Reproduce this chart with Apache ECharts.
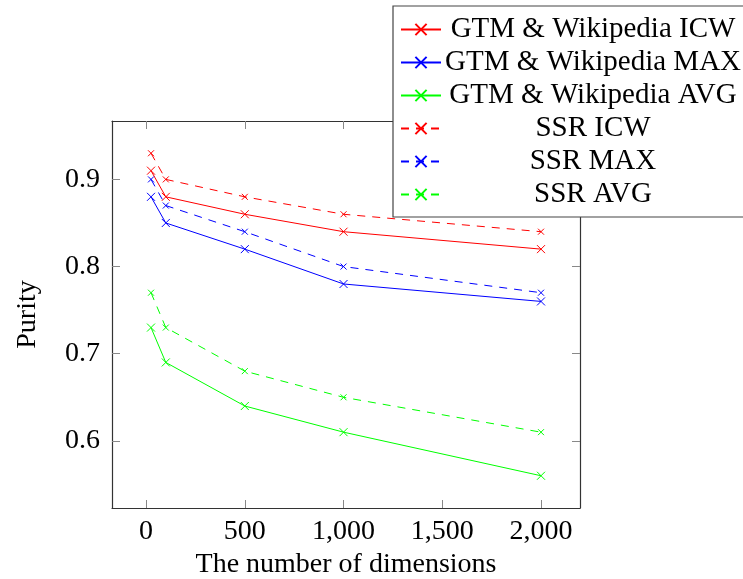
<!DOCTYPE html>
<html>
<head>
<meta charset="utf-8">
<script src="https://cdn.jsdelivr.net/npm/echarts@6/dist/echarts.min.js"></script>
<style>
  html, body { margin: 0; padding: 0; background: #fff; }
  #chart { width: 743px; height: 579px; }
</style>
</head>
<body>
<div id="chart"></div>
<script>
// Purity versus number of dimensions
const dimensions = [25, 100, 500, 1000, 2000];
const gtmIcw = [0.91, 0.88, 0.86, 0.84, 0.82];
const gtmMax = [0.88, 0.85, 0.82, 0.78, 0.76];
const gtmAvg = [0.73, 0.69, 0.64, 0.61, 0.56];
const ssrIcw = [0.93, 0.90, 0.88, 0.86, 0.84];
const ssrMax = [0.90, 0.87, 0.84, 0.80, 0.77];
const ssrAvg = [0.77, 0.73, 0.68, 0.65, 0.61];
const xTicks = [0, 500, 1000, 1500, 2000];
const yTicks = [0.6, 0.7, 0.8, 0.9];

const FONT = '"Liberation Serif", "DejaVu Serif", serif';
const CROSS = 'path://M0,0L10,10M10,0L0,10';

function pairs(ys) { return dimensions.map((x, i) => [x, ys[i]]); }

function makeSeries(name, ys, color, dashed) {
  return {
    name: name,
    type: 'line',
    data: pairs(ys),
    symbol: CROSS,
    symbolSize: dashed ? 6 : 8,
    showAllSymbol: true,
    lineStyle: { color: color, width: 1, type: dashed ? [8, 7] : 'solid' },
    itemStyle: { color: color, borderColor: color, borderWidth: 1 },
    emphasis: { disabled: true },
    animation: false,
    z: 3
  };
}

const tickStyle = { show: true, inside: true, length: 8, lineStyle: { color: '#888', width: 1 } };
const lineStyle = { show: true, onZero: false, lineStyle: { color: '#333', width: 1.2 } };

const chart = echarts.init(document.getElementById('chart'), null, { renderer: 'canvas' });
chart.setOption({
  backgroundColor: '#fff',
  animation: false,
  grid: { left: 112, right: 163, top: 121, bottom: 71, containLabel: false, outerBoundsMode: 'none' },
  legend: {
    left: 393,
    top: 6,
    orient: 'vertical',
    itemWidth: 40,
    itemHeight: 14,
    itemGap: 4,
    padding: [9, 8, 8, 7],
    backgroundColor: '#fff',
    borderColor: '#444',
    borderWidth: 1.2,
    borderRadius: 0,
    z: 10,
    formatter: n => '{c|' + n + '}',
    textStyle: {
      rich: {
        c: { width: 294, align: 'center', fontSize: 29, lineHeight: 28, fontFamily: FONT, color: '#000' }
      }
    },
    data: ['GTM & Wikipedia ICW', 'GTM & Wikipedia MAX', 'GTM & Wikipedia AVG', 'SSR ICW', 'SSR MAX', 'SSR AVG']
  },
  xAxis: [
    {
      type: 'value', position: 'bottom', min: -172.5, max: 2197.5,
      name: 'The number of dimensions', nameLocation: 'middle', nameGap: 37,
      nameTextStyle: { fontSize: 28, fontFamily: FONT, color: '#000' },
      axisLine: lineStyle,
      axisTick: Object.assign({ customValues: xTicks }, tickStyle),
      axisLabel: {
        customValues: xTicks, margin: 10, fontSize: 28, fontFamily: FONT, color: '#000',
        formatter: v => Number(v).toLocaleString('en-US')
      },
      splitLine: { show: false }
    },
    {
      type: 'value', position: 'top', min: -172.5, max: 2197.5,
      axisLine: lineStyle,
      axisTick: Object.assign({ customValues: xTicks }, tickStyle),
      axisLabel: { show: false },
      splitLine: { show: false }
    }
  ],
  yAxis: [
    {
      type: 'value', position: 'left', min: 0.523, max: 0.967,
      name: 'Purity', nameLocation: 'middle', nameGap: 70, nameRotate: 90,
      nameTextStyle: { fontSize: 28, fontFamily: FONT, color: '#000' },
      axisLine: lineStyle,
      axisTick: Object.assign({ customValues: yTicks }, tickStyle),
      axisLabel: {
        customValues: yTicks, margin: 12, fontSize: 28, fontFamily: FONT, color: '#000',
        formatter: v => Number(v).toFixed(1)
      },
      splitLine: { show: false }
    },
    {
      type: 'value', position: 'right', min: 0.523, max: 0.967,
      axisLine: lineStyle,
      axisTick: Object.assign({ customValues: yTicks }, tickStyle),
      axisLabel: { show: false },
      splitLine: { show: false }
    }
  ],
  series: [
    makeSeries('GTM & Wikipedia ICW', gtmIcw, '#ff0000', false),
    makeSeries('GTM & Wikipedia MAX', gtmMax, '#0000ff', false),
    makeSeries('GTM & Wikipedia AVG', gtmAvg, '#00ff00', false),
    makeSeries('SSR ICW', ssrIcw, '#ff0000', true),
    makeSeries('SSR MAX', ssrMax, '#0000ff', true),
    makeSeries('SSR AVG', ssrAvg, '#00ff00', true)
  ]
});
</script>
</body>
</html>
